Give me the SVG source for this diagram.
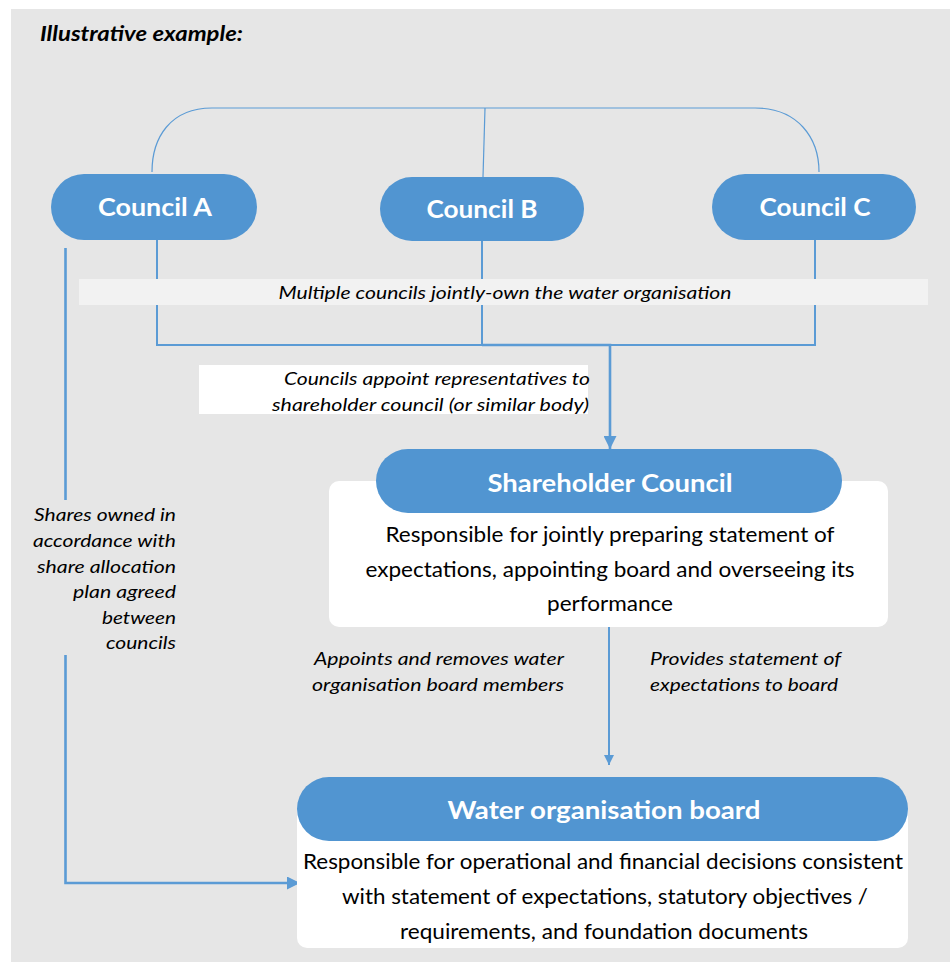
<svg xmlns="http://www.w3.org/2000/svg" width="950" height="962" viewBox="0 0 950 962">
<defs>
<style>
text{font-family:Lato,"Open Sans","Liberation Sans",sans-serif;}
.title{font-size:20px;font-weight:bold;font-style:italic;fill:#000;}
.pill{fill:#5195d1;}
.head{font-size:25px;font-weight:bold;fill:#fff;text-anchor:middle;}
.body{font-size:21px;fill:#000;text-anchor:middle;}
.lab{font-size:18px;font-style:italic;fill:#000;}
.thin{fill:none;stroke:#5b9bd5;stroke-width:1.2;}
.conn{fill:none;stroke:#5b9bd5;stroke-width:2;}
.connb{fill:none;stroke:#5b9bd5;stroke-width:2.6;}
</style>
<marker id="arr" viewBox="0 0 10 10" refX="10" refY="5" markerWidth="5" markerHeight="5" markerUnits="strokeWidth" orient="auto">
<path d="M0,0 L10,5 L0,10 z" fill="#5b9bd5"/>
</marker>
</defs>
<rect x="0" y="0" width="950" height="962" fill="#ffffff"/>
<rect x="11" y="9" width="939" height="953" fill="#e6e6e6"/>
<text class="title" x="40" y="41" textLength="203" lengthAdjust="spacingAndGlyphs">Illustrative example:</text>

<g id="connectors">
<path class="thin" d="M152,172 C152,138 170,108 212,108 L755,108 C798,108 819,138 819,172"/>
<path class="thin" d="M485,108 L483,177"/>
<path class="conn" d="M157,240 L157,345 L815,345 L815,240"/>
<path class="conn" d="M482,241 L482,345"/>
<path class="connb" d="M482,345 L610,345 L610,449" marker-end="url(#arr)"/>
<path class="conn" d="M609,627 L609,765" marker-end="url(#arr)"/>
<path class="connb" d="M65.5,248 L65.5,500"/>
<path class="connb" d="M65.5,655 L65.5,883 L300,883" marker-end="url(#arr)"/>
</g>

<g id="label-joint">
<rect x="79" y="279" width="849" height="26" fill="#f2f2f2"/>
<text class="lab" x="505" y="299" text-anchor="middle" textLength="453" lengthAdjust="spacingAndGlyphs">Multiple councils jointly-own the water organisation</text>
</g>
<g id="label-appoint">
<rect x="199" y="365" width="389" height="49" fill="#ffffff"/>
<text class="lab" x="590" y="385" text-anchor="end" textLength="306" lengthAdjust="spacingAndGlyphs">Councils appoint representatives to</text>
<text class="lab" x="589" y="411" text-anchor="end" textLength="317" lengthAdjust="spacingAndGlyphs">shareholder council (or similar body)</text>
</g>
<g id="label-shares">
<rect x="22" y="503" width="160" height="150" fill="#e6e6e6"/>
<text class="lab" x="176" y="521" text-anchor="end" textLength="142" lengthAdjust="spacingAndGlyphs">Shares owned in</text>
<text class="lab" x="176" y="547" text-anchor="end" textLength="143" lengthAdjust="spacingAndGlyphs">accordance with</text>
<text class="lab" x="176" y="573" text-anchor="end" textLength="139" lengthAdjust="spacingAndGlyphs">share allocation</text>
<text class="lab" x="176" y="598" text-anchor="end" textLength="103" lengthAdjust="spacingAndGlyphs">plan agreed</text>
<text class="lab" x="176" y="624" text-anchor="end" textLength="74" lengthAdjust="spacingAndGlyphs">between</text>
<text class="lab" x="176" y="649" text-anchor="end" textLength="70" lengthAdjust="spacingAndGlyphs">councils</text>
</g>
<g id="label-appoints-board">
<text class="lab" x="564" y="665" text-anchor="end" textLength="250" lengthAdjust="spacingAndGlyphs">Appoints and removes water</text>
<text class="lab" x="564" y="691" text-anchor="end" textLength="252" lengthAdjust="spacingAndGlyphs">organisation board members</text>
</g>
<g id="label-provides">
<text class="lab" x="650" y="665" textLength="191" lengthAdjust="spacingAndGlyphs">Provides statement of</text>
<text class="lab" x="650" y="691" textLength="188" lengthAdjust="spacingAndGlyphs">expectations to board</text>
</g>

<g id="council-a">
<rect class="pill" x="51" y="174" width="206" height="66" rx="33"/>
<text class="head" x="155" y="216" textLength="114" lengthAdjust="spacingAndGlyphs">Council A</text>
</g>
<g id="council-b">
<rect class="pill" x="380" y="177" width="204" height="64" rx="32"/>
<text class="head" x="482" y="218" textLength="111" lengthAdjust="spacingAndGlyphs">Council B</text>
</g>
<g id="council-c">
<rect class="pill" x="712" y="174" width="204" height="66" rx="33"/>
<text class="head" x="815" y="216" textLength="111" lengthAdjust="spacingAndGlyphs">Council C</text>
</g>

<g id="shareholder-council">
<rect x="329" y="481" width="559" height="146" rx="10" fill="#ffffff"/>
<rect class="pill" x="376" y="449" width="466" height="64" rx="32"/>
<text class="head" x="610" y="492" textLength="245" lengthAdjust="spacingAndGlyphs">Shareholder Council</text>
<text class="body" x="610" y="542" textLength="449" lengthAdjust="spacingAndGlyphs">Responsible for jointly preparing statement of</text>
<text class="body" x="610" y="577" textLength="489" lengthAdjust="spacingAndGlyphs">expectations, appointing board and overseeing its</text>
<text class="body" x="610" y="611" textLength="126" lengthAdjust="spacingAndGlyphs">performance</text>
</g>

<g id="water-board">
<rect x="297" y="800" width="611" height="148" rx="10" fill="#ffffff"/>
<rect class="pill" x="297" y="777" width="611" height="64" rx="32"/>
<text class="head" x="604" y="819" textLength="313" lengthAdjust="spacingAndGlyphs">Water organisation board</text>
<text class="body" x="603" y="869" textLength="600" lengthAdjust="spacingAndGlyphs">Responsible for operational and financial decisions consistent</text>
<text class="body" x="605" y="904" textLength="526" lengthAdjust="spacingAndGlyphs">with statement of expectations, statutory objectives /</text>
<text class="body" x="604" y="939" textLength="408" lengthAdjust="spacingAndGlyphs">requirements, and foundation documents</text>
</g>
</svg>
